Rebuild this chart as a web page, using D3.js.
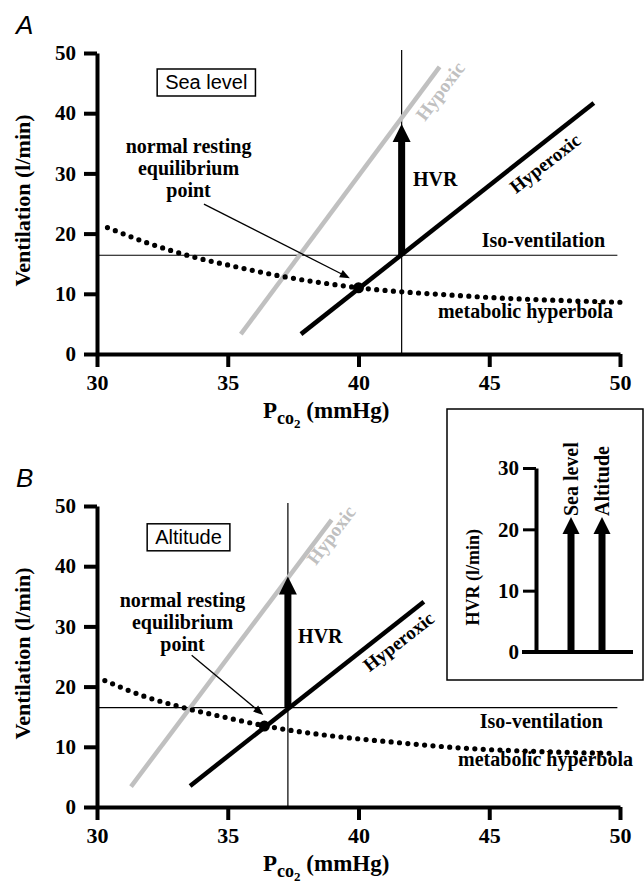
<!DOCTYPE html>
<html>
<head>
<meta charset="utf-8">
<title>HVR at sea level and altitude</title>
<script src="https://cdn.jsdelivr.net/npm/d3@7"></script>
<style>
  body { margin: 0; background: #fff; }
  svg text { font-family: "Liberation Serif", "Times New Roman", Times, serif; font-weight: bold; }
  svg text.sans { font-family: "Liberation Sans", Arial, sans-serif; font-weight: normal; }
</style>
</head>
<body>
<script>
// values
var xTicks = [30, 35, 40, 45, 50];
var yTicks = [0, 10, 20, 30, 40, 50];

// A - sea level
var seaHypoxic    = [[35.5, 3.3], [43.1, 47.7]];
var seaHyperoxic  = [[37.8, 3.3], [49.0, 41.7]];
var seaHyperbolaP = [30.4, 31.9, 33.7, 35.3, 37.2, 38.8, 40.0, 41.6, 43.5, 45.4, 47.7, 50.0];
var seaHyperbolaV = [21.0, 18.5, 16.1, 14.5, 12.8, 11.7, 11.0, 10.35, 9.8, 9.3, 8.9, 8.6];
var seaEq = [40.0, 11.0];
var seaIso = 16.4;
var seaPco2 = 41.65;
var seaHvrTop = 38.2;

// B - altitude
var altHypoxic    = [[31.3, 3.4], [38.97, 47.7]];
var altHyperoxic  = [[33.56, 3.5], [42.5, 34.1]];
var altHyperbolaP = [30.3, 31.8, 33.4, 35.0, 36.4, 37.6, 38.9, 41.5, 44.1, 47.0, 49.9];
var altHyperbolaV = [21.0, 18.4, 16.4, 14.8, 13.5, 12.6, 11.85, 10.7, 9.75, 9.2, 8.9];
var altEq = [36.4, 13.45];
var altIso = 16.5;
var altPco2 = 37.3;
var altHvrTop = 38.3;

// inset
var hvrGroups = ["Sea level", "Altitude"];
var hvrValues = [22, 22];
var hvrTicks = [0, 10, 20, 30];

var width = 644, height = 884;
var grey = "#c0c0c0";
var serif = "'Liberation Serif', 'Times New Roman', Times, serif";

var svg = d3.select("body").append("svg")
  .attr("width", width)
  .attr("height", height);

var x = d3.scaleLinear().domain([30, 50]).range([97, 620]);

function arrowUp(g, cx, yBase, yTip, shaftW, headW, headH) {
  g.append("rect")
    .attr("x", cx - shaftW / 2).attr("y", yTip + headH - 1)
    .attr("width", shaftW).attr("height", yBase - yTip - headH + 1)
    .attr("fill", "#000");
  g.append("path")
    .attr("d", "M" + cx + "," + yTip + "L" + (cx + headW / 2) + "," + (yTip + headH) +
               "L" + (cx - headW / 2) + "," + (yTip + headH) + "Z")
    .attr("fill", "#000");
}

function styleAxis(a, size, tickW) {
  a.attr("font-family", serif).attr("font-size", size).attr("font-weight", "bold");
  a.select(".domain").attr("stroke-width", 4);
  a.selectAll(".tick line").attr("stroke-width", tickW);
  a.selectAll(".tick text").attr("fill", "#000");
}

function drawPanel(p) {
  var y = d3.scaleLinear().domain([0, 50]).range([p.y0, p.y0 - 301]);
  var g = svg.append("g").attr("font-family", serif);

  g.append("text").attr("class", "sans")
    .attr("x", 16).attr("y", p.y0 - 320)
    .style("font-style", "italic").style("font-size", "26px")
    .text(p.letter);

  // axes
  var ax = g.append("g")
    .attr("transform", "translate(0," + p.y0 + ")")
    .call(d3.axisBottom(x).tickValues(xTicks).tickSize(13).tickSizeOuter(0).tickPadding(7));
  styleAxis(ax, 22, 4);
  var ay = g.append("g")
    .attr("transform", "translate(" + x(30) + ",0)")
    .call(d3.axisLeft(y).tickValues(yTicks).tickSize(13).tickSizeOuter(0).tickPadding(8));
  styleAxis(ay, 21, 4);

  // axis titles
  g.append("text")
    .attr("transform", "translate(30," + y(25.5) + ") rotate(-90)")
    .attr("text-anchor", "middle").style("font-size", "22px")
    .text("Ventilation (l/min)");
  var xt = g.append("text")
    .attr("x", 263).attr("y", p.y0 + 64)
    .style("font-size", "23px");
  xt.append("tspan").text("P");
  xt.append("tspan").attr("dy", 6).style("font-size", "18px").text("co");
  xt.append("tspan").attr("dy", 4).style("font-size", "13px").text("2");
  xt.append("tspan").attr("dy", -10).text(" (mmHg)");

  // iso-ventilation and iso-Pco2 lines
  g.append("line")
    .attr("x1", x(30)).attr("x2", x(49.9))
    .attr("y1", y(p.iso)).attr("y2", y(p.iso))
    .attr("stroke", "#000").attr("stroke-width", 1.2);
  g.append("line")
    .attr("x1", x(p.pco2)).attr("x2", x(p.pco2))
    .attr("y1", y(0)).attr("y2", y(50.5))
    .attr("stroke", "#000").attr("stroke-width", 1.2);

  // response lines
  var line = d3.line().x(function(d) { return x(d[0]); }).y(function(d) { return y(d[1]); });
  g.append("path").attr("d", line(p.hypoxic))
    .attr("stroke", grey).attr("stroke-width", 4.5).attr("fill", "none");
  g.append("path").attr("d", line(p.hyperoxic))
    .attr("stroke", "#000").attr("stroke-width", 4.5).attr("fill", "none");

  // metabolic hyperbola
  var hyp = p.hypP.map(function(v, i) { return [v, p.hypV[i]]; });
  g.append("path")
    .attr("d", line.curve(d3.curveMonotoneX)(hyp))
    .attr("fill", "none").attr("stroke", "#000")
    .attr("stroke-width", 5.2).attr("stroke-linecap", "round")
    .attr("stroke-dasharray", "0,8.4");

  g.append("circle")
    .attr("cx", x(p.eq[0])).attr("cy", y(p.eq[1])).attr("r", 5.5)
    .attr("fill", "#000");

  // HVR arrow
  arrowUp(g, x(p.pco2), y(p.iso), y(p.hvrTop), 7, 18, 18);

  // text labels
  g.append("text").attr("x", x(p.hvrLab[0])).attr("y", y(p.hvrLab[1]))
    .style("font-size", "20px").text("HVR");
  g.append("text").attr("text-anchor", "middle")
    .attr("transform", "translate(" + x(p.hypoLab[0]) + "," + y(p.hypoLab[1]) + ") rotate(-53)")
    .attr("dy", "0.35em").attr("fill", grey).style("font-size", "19px").text("Hypoxic");
  g.append("text").attr("text-anchor", "middle")
    .attr("transform", "translate(" + x(p.hyperLab[0]) + "," + y(p.hyperLab[1]) + ") rotate(-38)")
    .attr("dy", "0.35em").style("font-size", "19px").text("Hyperoxic");
  g.append("text").attr("text-anchor", "end")
    .attr("x", x(p.isoLab[0])).attr("y", y(p.isoLab[1]))
    .style("font-size", "20px").text("Iso-ventilation");
  g.append("text").attr("text-anchor", "end")
    .attr("x", x(p.metLab[0])).attr("y", y(p.metLab[1]))
    .style("font-size", "20px").text("metabolic hyperbola");

  var nr = g.append("text").attr("text-anchor", "middle")
    .attr("y", y(p.eqLab[1])).style("font-size", "20px");
  ["normal resting", "equilibrium", "point"].forEach(function(s, i) {
    nr.append("tspan").attr("x", x(p.eqLab[0])).attr("dy", i ? 22 : 0).text(s);
  });

  // pointer to equilibrium point
  var x1 = x(p.pointer[0][0]), y1 = y(p.pointer[0][1]);
  var x2 = x(p.pointer[1][0]), y2 = y(p.pointer[1][1]);
  var ang = Math.atan2(y2 - y1, x2 - x1);
  g.append("line").attr("x1", x1).attr("y1", y1)
    .attr("x2", x2 - 7 * Math.cos(ang)).attr("y2", y2 - 7 * Math.sin(ang))
    .attr("stroke", "#000").attr("stroke-width", 1.3);
  g.append("path")
    .attr("transform", "translate(" + x2 + "," + y2 + ") rotate(" + ang * 180 / Math.PI + ")")
    .attr("d", "M0,0L-10,-4L-10,4Z").attr("fill", "#000");

  // condition box
  var bt = g.append("text").attr("class", "sans")
    .attr("x", x(p.box[0])).attr("y", y(p.box[1])).attr("dy", "0.35em")
    .attr("text-anchor", "middle").style("font-size", "20px").text(p.boxText);
  var bb = bt.node().getBBox();
  g.insert("rect", function() { return bt.node(); })
    .attr("x", bb.x - 8).attr("y", y(p.box[1]) - 13.5)
    .attr("width", bb.width + 16).attr("height", 27)
    .attr("fill", "#fff").attr("stroke", "#000").attr("stroke-width", 1.5);
}

drawPanel({
  letter: "A", y0: 354, boxText: "Sea level",
  hypoxic: seaHypoxic, hyperoxic: seaHyperoxic,
  hypP: seaHyperbolaP, hypV: seaHyperbolaV, eq: seaEq,
  iso: seaIso, pco2: seaPco2, hvrTop: seaHvrTop,
  box: [34.18, 45.1], hvrLab: [42.08, 27.9], hypoLab: [43.12, 43.7], hyperLab: [47.13, 31.7],
  isoLab: [49.43, 17.8], metLab: [49.73, 6.0], eqLab: [33.5, 33.4],
  pointer: [[34.09, 24.9], [39.67, 12.6]]
});

drawPanel({
  letter: "B", y0: 807, boxText: "Altitude",
  hypoxic: altHypoxic, hyperoxic: altHyperoxic,
  hypP: altHyperbolaP, hypV: altHyperbolaV, eq: altEq,
  iso: altIso, pco2: altPco2, hvrTop: altHvrTop,
  box: [33.5, 44.8], hvrLab: [37.69, 27.2], hypoLab: [38.95, 45.2], hyperLab: [41.53, 27.5],
  isoLab: [49.35, 13.1], metLab: [50.5, 6.8], eqLab: [33.27, 33.2],
  pointer: [[33.62, 25.2], [36.36, 15.3]]
});

// inset: HVR at sea level vs altitude
var inset = svg.append("g").attr("font-family", serif);
inset.append("rect")
  .attr("x", 447).attr("y", 409).attr("width", 196).attr("height", 271)
  .attr("fill", "#fff").attr("stroke", "#000").attr("stroke-width", 1.5);

var yI = d3.scaleLinear().domain([0, 30]).range([652, 468]);
var xI = d3.scalePoint().domain(hvrGroups).range([571, 602]);

var ayI = inset.append("g")
  .attr("transform", "translate(536,0)")
  .call(d3.axisLeft(yI).tickValues(hvrTicks).tickSize(13).tickSizeOuter(0).tickPadding(4));
styleAxis(ayI, 21, 3);
inset.append("line")
  .attr("x1", 522).attr("x2", 633).attr("y1", yI(0)).attr("y2", yI(0))
  .attr("stroke", "#000").attr("stroke-width", 4);

hvrGroups.forEach(function(name, i) {
  arrowUp(inset, xI(name), yI(0), yI(hvrValues[i]), 7, 17, 17);
  inset.append("text")
    .attr("transform", "translate(" + (xI(name) + 7) + "," + (yI(hvrValues[i]) - 1) + ") rotate(-90)")
    .style("font-size", "20px").text(name);
});

inset.append("text")
  .attr("transform", "translate(479," + yI(12.2) + ") rotate(-90)")
  .attr("text-anchor", "middle").style("font-size", "18px")
  .text("HVR (l/min)");
</script>
</body>
</html>
